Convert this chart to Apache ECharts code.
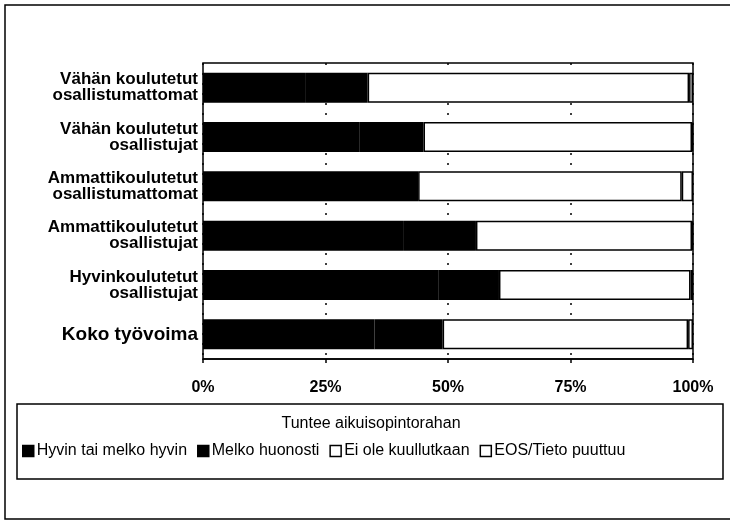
<!DOCTYPE html>
<html>
<head>
<meta charset="utf-8">
<script src="https://cdn.jsdelivr.net/npm/echarts@6/dist/echarts.min.js"></script>
<style>
  html, body { margin: 0; padding: 0; background: #fff; }
  #chart { width: 730px; height: 523px; }
</style>
</head>
<body>
<div id="chart"></div>
<script>
const categories = [
  'Vähän koulutetut\nosallistumattomat',
  'Vähän koulutetut\nosallistujat',
  'Ammattikoulutetut\nosallistumattomat',
  'Ammattikoulutetut\nosallistujat',
  'Hyvinkoulutetut\nosallistujat',
  'Koko työvoima'
]
const seriesNames = ['Hyvin tai melko hyvin', 'Melko huonosti', 'Ei ole kuullutkaan', 'EOS/Tieto puuttuu']
// percentages (both black shares are drawn the same colour)
const hyvin = [21.0, 32.0, 30.0, 41.0, 48.0, 35.0]
const melkoHuonosti = [12.6, 13.0, 13.9, 14.7, 12.4, 13.9]
const eiKuullut = [65.6, 54.8, 53.8, 44.1, 39.1, 50.1]
const eos = [0.8, 0.2, 2.3, 0.2, 0.5, 1.0]
const xTicks = [0, 25, 50, 75, 100]
const legendTitle = 'Tuntee aikuisopintorahan'

const chart = echarts.init(document.getElementById('chart'))
const font = 'Liberation Sans, Arial, sans-serif'

function bar(name, data, fill) {
  return {
    name: name,
    type: 'bar',
    stack: 'total',
    barWidth: 30,
    data: data,
    silent: true,
    itemStyle: fill === '#000'
      ? { color: '#000', borderColor: '#000', borderWidth: 2 }
      : { color: '#fff', borderColor: '#000', borderWidth: 1.5 }
  }
}

chart.setOption({
  animation: false,
  textStyle: { fontFamily: font, color: '#000' },
  grid: {
    left: 203, right: 37, top: 63, bottom: 164,
    show: true, borderColor: '#000', borderWidth: 1.5
  },
  xAxis: {
    type: 'value',
    min: 0, max: 100, interval: 25,
    axisLine: { show: true, lineStyle: { color: '#000', width: 1.5 } },
    axisTick: { show: true, length: 4, lineStyle: { color: '#000', width: 1.5 } },
    splitLine: { show: true, lineStyle: { color: '#000', width: 1.5, type: [2, 8] } },
    axisLabel: {
      margin: 21,
      fontSize: 16,
      fontWeight: 'bold',
      color: '#000',
      formatter: v => xTicks.includes(v) ? v + '%' : ''
    }
  },
  yAxis: {
    type: 'category',
    inverse: true,
    data: categories,
    axisLine: { show: false },
    axisTick: { show: false },
    axisLabel: {
      margin: 5,
      fontSize: 17,
      fontWeight: 'bold',
      lineHeight: 16,
      color: '#000',
      formatter: v => v === 'Koko työvoima' ? '{b|' + v + '}' : v,
      rich: { b: { fontSize: 19, fontWeight: 'bold', color: '#000', fontFamily: font } }
    }
  },
  legend: {
    data: seriesNames,
    left: 22,
    top: 443,
    padding: 0,
    itemGap: 10,
    itemWidth: 11,
    itemHeight: 11,
    itemStyle: { borderColor: '#000', borderWidth: 1.5 },
    icon: 'rect',
    textStyle: { fontFamily: font, fontSize: 16, color: '#000', padding: [0, 0, 0, -2] },
    selectedMode: false
  },
  graphic: [
    {
      type: 'rect', silent: true,
      shape: { x: 5, y: 5, width: 740, height: 514 },
      style: { fill: null, stroke: '#000', lineWidth: 1.5 }
    },
    {
      type: 'rect', silent: true,
      shape: { x: 17, y: 404, width: 706, height: 75 },
      style: { fill: null, stroke: '#000', lineWidth: 1.5 }
    },
    {
      type: 'text', silent: true,
      x: 371, y: 424,
      style: {
        text: legendTitle, fontFamily: font, fontSize: 16, fill: '#000',
        align: 'center', verticalAlign: 'middle'
      }
    }
  ],
  series: [
    bar(seriesNames[0], hyvin, '#000'),
    bar(seriesNames[1], melkoHuonosti, '#000'),
    bar(seriesNames[2], eiKuullut, '#fff'),
    bar(seriesNames[3], eos, '#fff')
  ]
})
</script>
</body>
</html>
